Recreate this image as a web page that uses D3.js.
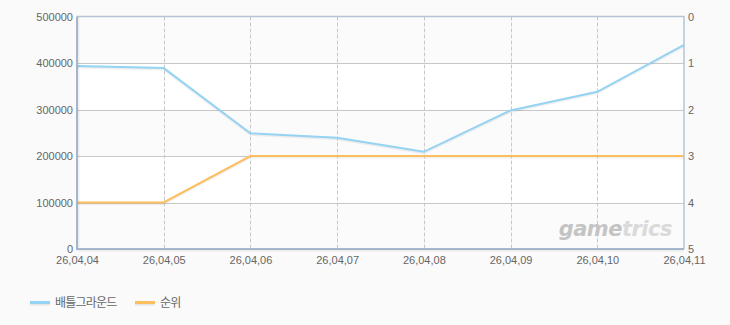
<!DOCTYPE html>
<html>
<head>
<meta charset="utf-8">
<script src="https://cdn.jsdelivr.net/npm/d3@7"></script>
<style>
	body { margin: 0; background: #fafafa; }
	#content { width: 730px; height: 325px; }
	.tick text { font-family: "Liberation Sans", Arial, sans-serif; font-size: 11px; fill: #666; }
</style>
</head>
<body>
<div id="content"></div>
<script>
var dates = ["26,04,04", "26,04,05", "26,04,06", "26,04,07", "26,04,08", "26,04,09", "26,04,10", "26,04,11"];
var players = [393500, 389000, 249000, 239000, 209000, 298000, 338000, 439000];
var ranks = [4, 4, 3, 3, 3, 3, 3, 3];
var leftTicks = [0, 100000, 200000, 300000, 400000, 500000];
var rightTicks = [0, 1, 2, 3, 4, 5];
var seriesNames = ["배틀그라운드", "순위"];
var seriesColors = ["#94d3f2", "#fcbe5e"];

function main() {
	var svg = d3.select("#content")
		.append("svg")
		.attr("width", 730)
		.attr("height", 325);

	var margin = { left: 77, right: 684, top: 16.5, bottom: 249 };

	var x = d3.scalePoint()
		.domain(dates)
		.range([margin.left, margin.right]);

	var yLeft = d3.scaleLinear()
		.domain([0, 500000])
		.range([margin.bottom, margin.top]);

	var yRight = d3.scaleLinear()
		.domain([0, 5])
		.range([margin.top, margin.bottom]);

	// plot background bands
	var bands = svg.append("g");
	for (var i = 0; i < leftTicks.length - 1; i++) {
		bands.append("rect")
			.attr("x", margin.left)
			.attr("y", yLeft(leftTicks[i + 1]))
			.attr("width", margin.right - margin.left)
			.attr("height", yLeft(leftTicks[i]) - yLeft(leftTicks[i + 1]))
			.attr("fill", i % 2 == 0 ? "#fbfbfb" : "#ffffff");
	}

	// horizontal grid
	svg.append("g")
		.selectAll("line")
		.data(leftTicks.slice(1, -1))
		.enter().append("line")
		.attr("x1", margin.left)
		.attr("x2", margin.right)
		.attr("y1", function (d) { return Math.round(yLeft(d)) + 0.5; })
		.attr("y2", function (d) { return Math.round(yLeft(d)) + 0.5; })
		.attr("stroke", "#c8c8c8");

	// vertical dashed grid
	svg.append("g")
		.selectAll("line")
		.data(dates.slice(1, -1))
		.enter().append("line")
		.attr("x1", function (d) { return Math.round(x(d)) + 0.5; })
		.attr("x2", function (d) { return Math.round(x(d)) + 0.5; })
		.attr("y1", margin.top)
		.attr("y2", margin.bottom)
		.attr("stroke", "#c8c8c8")
		.attr("stroke-dasharray", "4,2");

	// watermark
	var wm = svg.append("text")
		.attr("x", 672)
		.attr("y", 236)
		.attr("text-anchor", "end")
		.attr("font-family", "DejaVu Sans, sans-serif")
		.attr("font-size", 21)
		.attr("font-weight", "bold")
		.attr("font-style", "italic")
		.attr("letter-spacing", -0.5);
	wm.append("tspan").attr("fill", "#c4c4c4").text("game");
	wm.append("tspan").attr("fill", "#dadada").text("trics");

	// frame: top and right border
	svg.append("path")
		.attr("d", "M" + margin.left + "," + margin.top + "H" + margin.right + "V" + margin.bottom)
		.attr("fill", "none")
		.attr("stroke", "#b4c6d8")
		.attr("stroke-width", 1.5);

	// lines
	var lineLeft = d3.line()
		.x(function (d, i) { return x(dates[i]); })
		.y(function (d) { return yLeft(d); });
	var lineRight = d3.line()
		.x(function (d, i) { return x(dates[i]); })
		.y(function (d) { return yRight(d); });

	var seriesPaths = [lineLeft(players), lineRight(ranks)];
	seriesPaths.forEach(function (p, i) {
		svg.append("path")
			.attr("d", p)
			.attr("transform", "translate(0,1.5)")
			.attr("fill", "none")
			.attr("stroke", "#000")
			.attr("stroke-opacity", 0.06)
			.attr("stroke-width", 2);
		svg.append("path")
			.attr("d", p)
			.attr("fill", "none")
			.attr("stroke", seriesColors[i])
			.attr("stroke-width", 2);
	});

	// axes
	var leftAxis = svg.append("g")
		.attr("transform", "translate(" + margin.left + ",0)")
		.call(d3.axisLeft(yLeft).tickValues(leftTicks).tickSize(0).tickPadding(4).tickFormat(d3.format("d")));
	leftAxis.select(".domain").remove();

	var rightAxis = svg.append("g")
		.attr("transform", "translate(" + margin.right + ",0)")
		.call(d3.axisRight(yRight).tickValues(rightTicks).tickSize(0).tickPadding(4).tickFormat(d3.format("d")));
	rightAxis.select(".domain").remove();

	var bottomAxis = svg.append("g")
		.attr("transform", "translate(0," + margin.bottom + ")")
		.call(d3.axisBottom(x).tickSize(0).tickPadding(7));
	bottomAxis.select(".domain").remove();

	// left and bottom axis lines with shadow
	svg.append("path")
		.attr("d", "M" + (margin.left + 1.5) + "," + margin.top + "V" + (margin.bottom + 1.5) + "H" + margin.right)
		.attr("fill", "none")
		.attr("stroke", "#000")
		.attr("stroke-opacity", 0.06)
		.attr("stroke-width", 2);
	svg.append("path")
		.attr("d", "M" + margin.left + "," + margin.top + "V" + margin.bottom + "H" + margin.right)
		.attr("fill", "none")
		.attr("stroke", "#a3b6cb")
		.attr("stroke-width", 2);

	// legend
	var legendX = [30, 135];
	var legend = svg.append("g");
	seriesNames.forEach(function (name, i) {
		legend.append("line")
			.attr("x1", legendX[i]).attr("x2", legendX[i] + 20)
			.attr("y1", 304).attr("y2", 304)
			.attr("stroke", "#000").attr("stroke-opacity", 0.08)
			.attr("stroke-width", 3);
		legend.append("line")
			.attr("x1", legendX[i]).attr("x2", legendX[i] + 20)
			.attr("y1", 302.5).attr("y2", 302.5)
			.attr("stroke", seriesColors[i])
			.attr("stroke-width", 3);
		legend.append("text")
			.attr("x", legendX[i] + 25)
			.attr("y", 307)
			.attr("font-family", "Noto Sans CJK KR, sans-serif")
			.attr("font-size", 12)
			.attr("letter-spacing", -0.8)
			.attr("fill", "#666")
			.text(name);
	});
}

main();
</script>
</body>
</html>
